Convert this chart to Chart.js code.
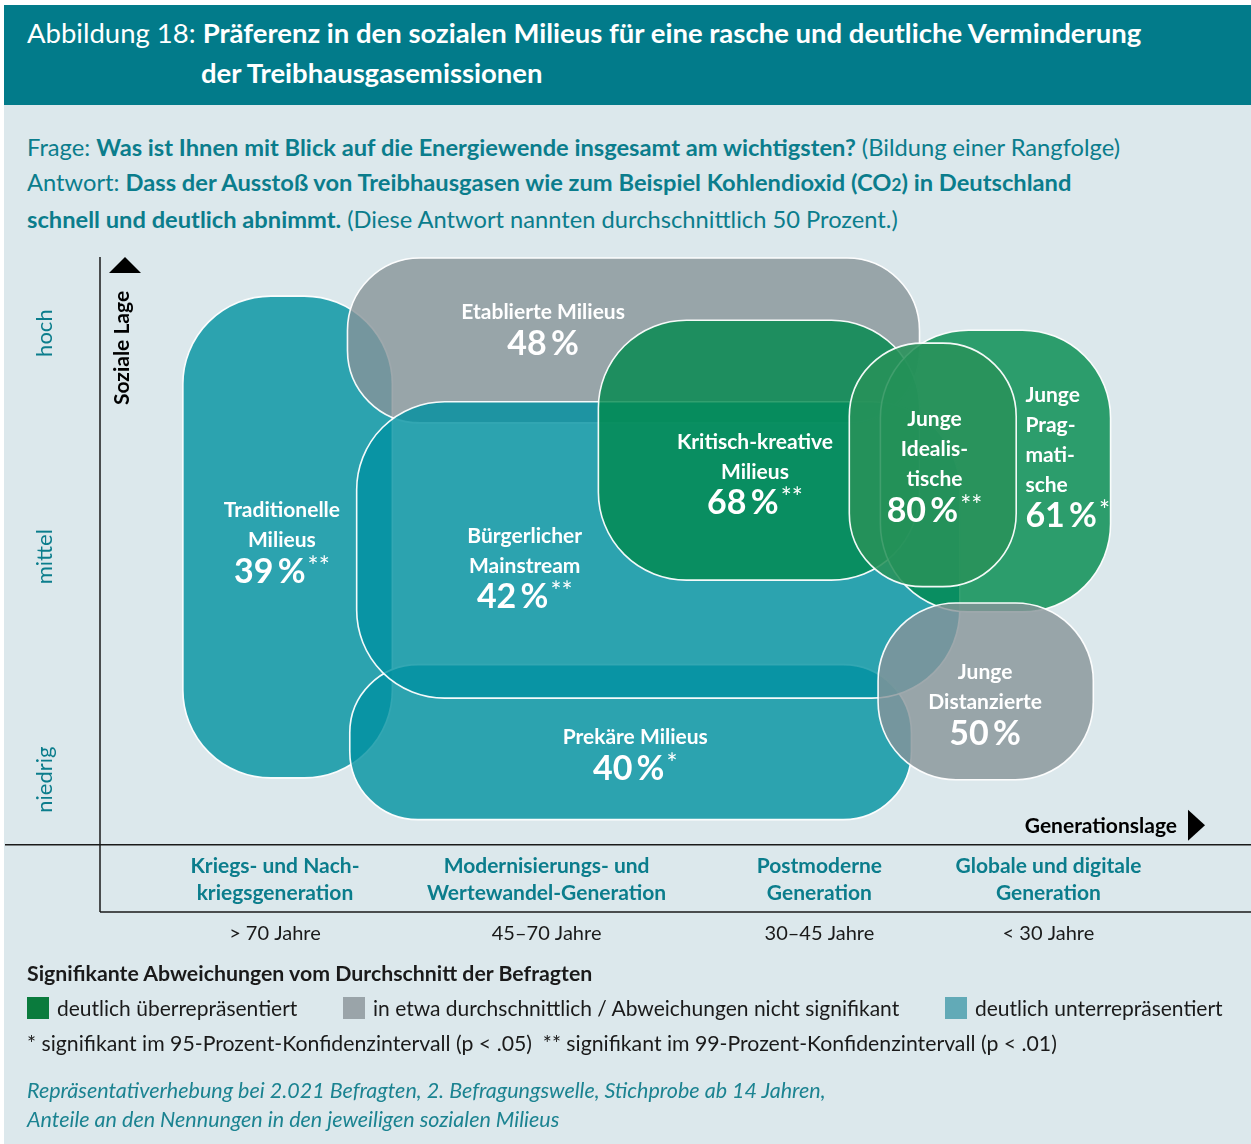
<!DOCTYPE html>
<html lang="de">
<head>
<meta charset="utf-8">
<script src="https://cdn.jsdelivr.net/npm/chart.js@4.4.1/dist/chart.umd.min.js"></script>
<style>
  html, body { margin: 0; padding: 0; background: #ffffff; }
  body { width: 1251px; height: 1144px; position: relative; overflow: hidden; font-family: Lato, "Open Sans", sans-serif; }
  #bg { position: absolute; left: 4px; top: 5px; width: 1247px; height: 1139px; background: #dce8ec; }
  #hdr { position: absolute; left: 4px; top: 5px; width: 1247px; height: 100px; background: #027b8a; }
  .t { position: absolute; white-space: nowrap; }
  .title { color: #ffffff; font-size: 27.5px; line-height: 36px; }
  .q { color: #0b7d8c; font-size: 23.7px; line-height: 34.5px; left: 27px; top: 130px; }
  .leg { color: #1a1a1a; font-size: 21px; line-height: 26px; }
  .sq { position: absolute; width: 22px; height: 22px; }
  .foot { color: #1b8391; font-size: 21.5px; line-height: 29px; font-style: italic; left: 27px; top: 1076px; }
  canvas { position: absolute; left: 0; top: 0; }
</style>
</head>
<body>
<div id="bg"></div>
<div id="hdr"></div>
<div class="t title" style="left:27px; top:15px;">Abbildung 18: <b>Präferenz in den sozialen Milieus für eine rasche und deutliche Verminderung</b></div>
<div class="t title" style="left:201px; top:55px;"><b>der Treibhausgasemissionen</b></div>
<div class="t q">Frage: <b>Was ist Ihnen mit Blick auf die Energiewende insgesamt am wichtigsten?</b> (Bildung einer Rangfolge)<br>Antwort: <b>Dass der Ausstoß von Treibhausgasen wie zum Beispiel Kohlendioxid (CO<span style="font-size:0.72em">2</span>) in Deutschland</b><br><b>schnell und deutlich abnimmt.</b> (Diese Antwort nannten durchschnittlich 50 Prozent.)</div>

<canvas id="c" width="1251" height="1144"></canvas>

<div class="t leg" style="left:27px; top:960px; font-size:21.3px;"><b>Signifikante Abweichungen vom Durchschnitt der Befragten</b></div>
<div class="sq" style="left:27px; top:997px; background:#0a7b3d;"></div>
<div class="t leg" style="left:57px; top:995px;">deutlich überrepräsentiert</div>
<div class="sq" style="left:343px; top:997px; background:#9aa4a9;"></div>
<div class="t leg" style="left:373px; top:995px;">in etwa durchschnittlich / Abweichungen nicht signifikant</div>
<div class="sq" style="left:945px; top:997px; background:#62aab7;"></div>
<div class="t leg" style="left:975px; top:995px;">deutlich unterrepräsentiert</div>
<div class="t leg" style="left:27px; top:1030px; font-size:21.25px;">* signifikant im 95-Prozent-Konfidenzintervall (p &lt; .05)&nbsp; ** signifikant im 99-Prozent-Konfidenzintervall (p &lt; .01)</div>
<div class="t foot">Repräsentativerhebung bei 2.021 Befragten, 2. Befragungswelle, Stichprobe ab 14 Jahren,<br>Anteile an den Nennungen in den jeweiligen sozialen Milieus</div>

<script>
// ---------- data ----------
const generationTicks = [15.2, 38.8, 62.5, 82.4];
const generationLabels = [
  ['Kriegs- und Nach-', 'kriegsgeneration'],
  ['Modernisierungs- und', 'Wertewandel-Generation'],
  ['Postmoderne', 'Generation'],
  ['Globale und digitale', 'Generation']
];
const ageLabels = ['> 70 Jahre', '45–70 Jahre', '30–45 Jahre', '< 30 Jahre'];
const socialTicks = [87.2, 49.1, 11.1];
const socialLabels = ['hoch', 'mittel', 'niedrig'];

const milieuNames = [
  ['Traditionelle', 'Milieus'],
  ['Etablierte Milieus'],
  ['Prekäre Milieus'],
  ['Bürgerlicher', 'Mainstream'],
  ['Kritisch-kreative', 'Milieus'],
  ['Junge', 'Prag-', 'mati-', 'sche'],
  ['Junge', 'Idealis-', 'tische'],
  ['Junge', 'Distanzierte']
];
const milieuShare = [39, 48, 40, 42, 68, 61, 80, 50];
const milieuSignificance = ['**', '', '*', '**', '**', '*', '**', ''];
const milieuGroup = ['unter', 'mittel', 'unter', 'unter', 'über', 'über', 'über', 'mittel'];
// extent of each milieu on the two axes (Generationslage 0–100, Soziale Lage 0–100)
const genStart    = [7.2, 21.5, 21.7, 22.3, 43.3, 67.8, 65.1, 67.6];
const genEnd      = [25.4, 71.2, 70.5, 74.7, 71.2, 87.8, 79.6, 86.3];
const socialStart = [11.4, 71.9, 4.3, 25.0, 45.1, 39.7, 44.0, 11.1];
const socialEnd   = [93.5, 100, 30.7, 75.5, 89.4, 87.7, 85.5, 41.2];
// anchor of each milieu's label (axis units)
const labelGen    = [15.8, 38.5, 46.5, 36.9, 56.9, 80.4, 72.5, 76.9];
const labelSocial = [46.7, 85.6, 13.1, 42.4, 58.4, 56.2, 57.1, 19.1];
const labelAlign  = ['center', 'center', 'center', 'center', 'center', 'left', 'center', 'center'];

// ---------- styles ----------
const FONT = 'Lato, "Open Sans", sans-serif';
const TEAL_TEXT = '#0b7d8c';
const groupFill = {
  'unter': 'rgba(0,145,160,0.80)',
  'mittel': 'rgba(135,147,152,0.80)',
  'über': 'rgba(0,138,76,0.80)'
};
// the small "Junge Idealistische" shape is drawn lighter and more opaque in the original
const fillOverride = { 6: 'rgba(40,146,90,0.88)' };

function squirclePath(ctx, x0, y0, x1, y1) {
  const w = x1 - x0, h = y1 - y0;
  const r = Math.min(Math.min(w, h) * 0.44, 88);
  ctx.beginPath();
  ctx.moveTo(x0 + r, y0);
  ctx.lineTo(x1 - r, y0);
  ctx.arcTo(x1, y0, x1, y0 + r, r);
  ctx.lineTo(x1, y1 - r);
  ctx.arcTo(x1, y1, x1 - r, y1, r);
  ctx.lineTo(x0 + r, y1);
  ctx.arcTo(x0, y1, x0, y1 - r, r);
  ctx.lineTo(x0, y0 + r);
  ctx.arcTo(x0, y0, x0 + r, y0, r);
  ctx.closePath();
}

const milieuPlugin = {
  id: 'milieus',
  beforeDatasetsDraw(chart) {
    const ctx = chart.ctx;
    const xs = chart.scales.x, ys = chart.scales.y;
    const ca = chart.chartArea;
    ctx.save();
    // axes lines
    ctx.strokeStyle = '#1a1a1a';
    ctx.lineWidth = 1.5;
    const sepY = chart.scales.x.bottom - 2;
    ctx.beginPath();
    ctx.moveTo(ca.left, ca.top - 1); ctx.lineTo(ca.left, sepY);
    ctx.moveTo(5, ca.bottom); ctx.lineTo(chart.width, ca.bottom);
    ctx.moveTo(ca.left, sepY); ctx.lineTo(chart.width, sepY);
    ctx.stroke();
    // arrows
    ctx.fillStyle = '#000';
    ctx.beginPath();
    ctx.moveTo(ca.left + 25, ca.top - 1);
    ctx.lineTo(ca.left + 41, ca.top + 15);
    ctx.lineTo(ca.left + 9, ca.top + 15);
    ctx.closePath(); ctx.fill();
    ctx.beginPath();
    ctx.moveTo(ca.right - 63, ca.bottom - 35);
    ctx.lineTo(ca.right - 46, ca.bottom - 19.5);
    ctx.lineTo(ca.right - 63, ca.bottom - 4);
    ctx.closePath(); ctx.fill();
    // axis titles
    ctx.font = 'bold 21px ' + FONT;
    ctx.fillStyle = '#000';
    ctx.textBaseline = 'middle';
    ctx.textAlign = 'right';
    ctx.fillText('Generationslage', ca.right - 74, ca.bottom - 19);
    ctx.save();
    ctx.translate(ca.left + 22, ca.top + 90);
    ctx.rotate(-Math.PI / 2);
    ctx.textAlign = 'center';
    ctx.fillText('Soziale Lage', 0, 0);
    ctx.restore();
    // social position tick labels (rotated)
    ctx.font = '22px ' + FONT;
    ctx.fillStyle = TEAL_TEXT;
    socialTicks.forEach((v, i) => {
      ctx.save();
      ctx.translate(ca.left - 55, ys.getPixelForValue(v));
      ctx.rotate(-Math.PI / 2);
      ctx.textAlign = 'center';
      ctx.textBaseline = 'middle';
      ctx.fillText(socialLabels[i], 0, 0);
      ctx.restore();
    });
    // milieu shapes
    for (let i = 0; i < milieuShare.length; i++) {
      const x0 = xs.getPixelForValue(genStart[i]);
      const x1 = xs.getPixelForValue(genEnd[i]);
      const y0 = ys.getPixelForValue(socialEnd[i]);
      const y1 = ys.getPixelForValue(socialStart[i]);
      squirclePath(ctx, x0, y0, x1, y1);
      ctx.fillStyle = fillOverride[i] || groupFill[milieuGroup[i]];
      ctx.fill();
      ctx.strokeStyle = 'rgba(255,255,255,0.95)';
      ctx.lineWidth = 1.6;
      ctx.stroke();
    }
    ctx.restore();
  },
  afterDatasetsDraw(chart) {
    const ctx = chart.ctx;
    const xs = chart.scales.x, ys = chart.scales.y;
    ctx.save();
    ctx.fillStyle = '#ffffff';
    ctx.textBaseline = 'alphabetic';
    for (let i = 0; i < milieuShare.length; i++) {
      const ax = xs.getPixelForValue(labelGen[i]);
      const ay = ys.getPixelForValue(labelSocial[i]);
      const align = labelAlign[i];
      // name lines
      ctx.font = 'bold 21px ' + FONT;
      ctx.textAlign = align;
      const names = milieuNames[i];
      names.forEach((line, k) => {
        const cy = ay - 31 - 30 * (names.length - 1 - k);
        ctx.fillText(line, ax, cy + 7.5);
      });
      // percentage
      const pct = milieuShare[i] + '\u2009%';
      const stars = milieuSignificance[i];
      ctx.font = 'bold 34px ' + FONT;
      const wp = ctx.measureText(pct).width;
      ctx.font = '26px ' + FONT;
      const ws = stars ? ctx.measureText(stars).width + 2 : 0;
      const total = wp + ws;
      const sx = align === 'left' ? ax : ax - total / 2;
      ctx.textAlign = 'left';
      ctx.font = 'bold 34px ' + FONT;
      ctx.fillText(pct, sx, ay + 12);
      if (stars) {
        ctx.font = '26px ' + FONT;
        ctx.fillText(stars, sx + wp + 2, ay + 5);
      }
    }
    ctx.restore();
  }
};

const tickFontBold = { family: FONT, size: 21, weight: 'bold', lineHeight: 1.29 };
const tickFontReg = { family: FONT, size: 20, lineHeight: 1.3 };

new Chart(document.getElementById('c'), {
  type: 'scatter',
  data: {
    datasets: [{
      label: 'Milieus',
      data: labelGen.map((g, i) => ({ x: g, y: labelSocial[i] })),
      pointRadius: 0,
      pointHoverRadius: 0
    }]
  },
  options: {
    responsive: false,
    animation: false,
    devicePixelRatio: 1,
    events: [],
    layout: { padding: { left: 100, right: 0, top: 258, bottom: 191 } },
    plugins: { legend: { display: false }, tooltip: { enabled: false } },
    scales: {
      x: {
        type: 'linear', min: 0, max: 100, position: 'bottom', weight: 0,
        grid: { display: false, drawTicks: false },
        border: { display: false },
        afterBuildTicks: (s) => { s.ticks = generationTicks.map(v => ({ value: v })); },
        ticks: {
          autoSkip: false, maxRotation: 0, minRotation: 0, padding: 7.5,
          color: TEAL_TEXT, font: tickFontBold,
          callback: (v, i) => generationLabels[i]
        }
      },
      x2: {
        type: 'linear', min: 0, max: 100, position: 'bottom', weight: 1,
        grid: { display: false, drawTicks: false },
        border: { display: false },
        afterBuildTicks: (s) => { s.ticks = generationTicks.map(v => ({ value: v })); },
        ticks: {
          autoSkip: false, maxRotation: 0, minRotation: 0, padding: 6.5,
          color: '#1a1a1a', font: tickFontReg,
          callback: (v, i) => ageLabels[i]
        }
      },
      y: { type: 'linear', min: 0, max: 100, display: false }
    }
  },
  plugins: [milieuPlugin]
});
</script>
</body>
</html>
